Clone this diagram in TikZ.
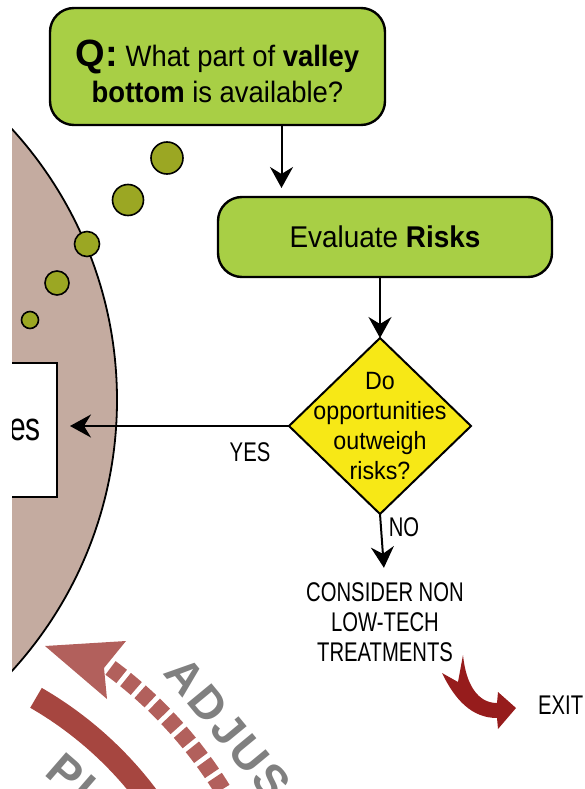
\documentclass[tikz,border=0pt]{standalone}
\usepackage{fontspec}
\setmainfont{Liberation Sans}
\newfontfamily\flowfont{Liberation Sans}[FakeStretch=0.93]
\newfontfamily\capsfont{Liberation Sans}[FakeStretch=0.75]
\newfontfamily\logofont{Liberation Sans}[LetterSpace=6.5]
\usepackage{tikz}
\usetikzlibrary{calc}
\usetikzlibrary{arrows.meta}
\usetikzlibrary{positioning}
\usetikzlibrary{shapes.geometric}
\usepackage{color}
\definecolor{leafgreen}{RGB}{168, 207, 69}
\definecolor{signyellow}{RGB}{247, 232, 22}
\definecolor{olivedot}{RGB}{155, 167, 35}
\definecolor{clayrose}{RGB}{196, 171, 160}
\definecolor{bandred}{RGB}{166, 70, 64}
\definecolor{dashred}{RGB}{178, 96, 92}
\definecolor{exitred}{RGB}{150, 28, 28}
\definecolor{logogrey}{RGB}{128, 128, 128}

\tikzset{
  flowbox/.style={draw=black, line width=2.4pt, fill=leafgreen, rounded corners=24pt,
                  align=center, inner sep=0pt, outer sep=0pt},
  choicebox/.style={diamond, draw=black, line width=2pt, fill=signyellow, inner sep=0pt,
                    outer sep=0pt, minimum width=182pt, minimum height=176pt},
  choicetext/.style={align=center, inner sep=0pt, font=\flowfont\fontsize{25}{30}\selectfont},
  plainlabel/.style={align=center, inner sep=0pt, font=\capsfont\fontsize{27}{30}\selectfont},
  planbox/.style={draw=black, line width=2.6pt, fill=white, minimum height=134pt,
                  inner xsep=16pt, outer sep=0pt, font=\capsfont\fontsize{40}{44}\selectfont},
  dot/.style={circle, draw=black, line width=1.6pt, fill=olivedot, inner sep=0pt},
  logoword/.style={inner sep=0pt, text=logogrey, font=\logofont\fontsize{46}{46}\selectfont\bfseries},
  flow/.style={line width=2pt, -{Stealth[length=21pt, width=23pt, inset=7pt]}},
}

\begin{document}
\begin{tikzpicture}[x=1pt, y=-1pt]
  \useasboundingbox (0,0) rectangle (585,789);

  % Plan circle, cut at the left edge
  \begin{scope}
    \clip (12,0) rectangle (585,789);
    \draw[line width=1.8pt, fill=clayrose] (-285,400) circle[radius=402];
    \node[planbox, anchor=east] (plan) at (57,430) {\hspace*{60pt}es};
  \end{scope}

  % Bubbles
  \foreach \x/\y/\d [count=\i] in {167/158/32pt, 128/200/31pt, 87/244/25pt, 57/283/24pt, 30/320/17pt}
    \node[dot, minimum size=\d] (dot\i) at (\x,\y) {};

  % Adjust logo
  \coordinate (logo) at (-150,1020);
  \draw[bandred, line width=23pt] (logo) ++(-60:372) arc[start angle=-60, end angle=-25, radius=372];
  \draw[dashred, line width=17pt, dash pattern=on 14pt off 5pt]
       (logo) ++(-53.5:438) arc[start angle=-53.5, end angle=-25, radius=438];
  \fill[dashred] (45,646) -- (126,641) -- (104,668) -- (107,699) -- cycle;
  \node[logoword, rotate=-50.5] (adjust) at (228,728) {ADJUS};
  \node[logoword, rotate=-41] (planword) at (77,783) {PL};

  % Flow chart
  \node[flowbox, minimum width=335pt, minimum height=117pt,
        font=\flowfont\fontsize{29.5}{36}\selectfont] (question) at (217.5,66.5)
       {{\rmfamily\fontsize{38}{36}\selectfont\bfseries Q:} What part of \textbf{valley}\rule{0pt}{37pt}\\
        \textbf{bottom} is available?};
  \node[flowbox, minimum width=334pt, minimum height=80pt,
        font=\flowfont\fontsize{30}{36}\selectfont] (risks) at (385,237) {Evaluate \textbf{Risks}};
  \node[choicebox] (decision) at (380,426) {};
  \node[choicetext] (decisiontext) at (decision.center) {Do\\opportunities\\outweigh\\risks?};
  \node[plainlabel] (nonlowtech) at (385,622.5) {CONSIDER NON\\LOW-TECH\\TREATMENTS};
  \node[plainlabel, anchor=west] (exit) at (538,705) {EXIT};
  \node[plainlabel] (yes) at (250,452) {YES};
  \node[plainlabel] (no) at (404,527) {NO};

  % Connectors
  \coordinate (qfoot) at ([xshift=64pt]question.south);
  \draw[flow, shorten >=9pt] (qfoot) -- (qfoot |- risks.north);
  \draw[flow] (risks.south -| decision.north) -- (decision.north);
  \draw[flow, shorten >=13pt] (decision.west) -- (decision.west -| plan.east);
  \draw[flow, shorten >=15pt] (decision.south) -- (nonlowtech.north);

  % Exit arrow
  \fill[exitred] (463,655) .. controls (466,685) and (478,703) .. (497,703) -- (498,692)
       -- (516,708) -- (498,729) -- (497,718) .. controls (472,718) and (455,700) .. (442,673)
       -- (458,682) -- cycle;
\end{tikzpicture}
\end{document}
